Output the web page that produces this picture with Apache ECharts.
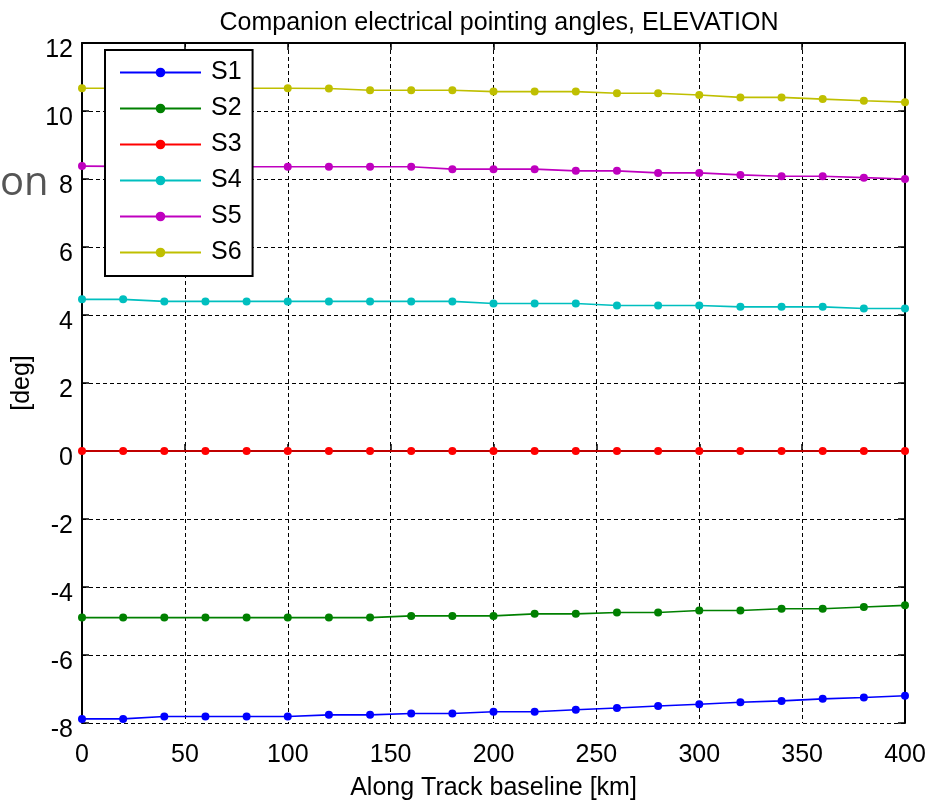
<!DOCTYPE html>
<html>
<head>
<meta charset="utf-8">
<title>Companion electrical pointing angles, ELEVATION</title>
<script src="https://cdn.jsdelivr.net/npm/echarts@6/dist/echarts.min.js"></script>
<style>
  html, body { margin: 0; padding: 0; background: #fff; }
  #chart { width: 927px; height: 802px; }
</style>
</head>
<body>
<div id="chart"></div>
<script>
// Along-track baseline samples [km]
const baseline = [0, 20, 40, 60, 80, 100, 120, 140, 160, 180, 200, 220, 240, 260, 280, 300, 320, 340, 360, 380, 400];

// Elevation pointing angle per satellite [deg]
const s1 = [-7.88, -7.88, -7.81, -7.81, -7.81, -7.81, -7.76, -7.76, -7.72, -7.72, -7.67, -7.67, -7.61, -7.56, -7.50, -7.45, -7.39, -7.35, -7.29, -7.25, -7.20];
const s2 = [-4.90, -4.90, -4.90, -4.90, -4.90, -4.90, -4.90, -4.90, -4.85, -4.85, -4.85, -4.79, -4.79, -4.75, -4.75, -4.69, -4.69, -4.64, -4.64, -4.59, -4.54];
const s3 = [0.00, 0.00, 0.00, 0.00, 0.00, 0.00, 0.00, 0.00, 0.00, 0.00, 0.00, 0.00, 0.00, 0.00, 0.00, 0.00, 0.00, 0.00, 0.00, 0.00, 0.00];
const s4 = [4.46, 4.46, 4.40, 4.40, 4.40, 4.40, 4.40, 4.40, 4.40, 4.40, 4.34, 4.34, 4.34, 4.28, 4.28, 4.28, 4.24, 4.24, 4.24, 4.19, 4.19];
const s5 = [8.38, 8.37, 8.37, 8.36, 8.36, 8.36, 8.36, 8.36, 8.36, 8.29, 8.29, 8.29, 8.24, 8.24, 8.18, 8.18, 8.12, 8.08, 8.08, 8.04, 8.00];
const s6 = [10.67, 10.67, 10.67, 10.67, 10.67, 10.67, 10.66, 10.61, 10.61, 10.61, 10.57, 10.57, 10.57, 10.52, 10.52, 10.47, 10.40, 10.40, 10.35, 10.30, 10.26];

const seriesNames = ['S1', 'S2', 'S3', 'S4', 'S5', 'S6'];
const seriesValues = [s1, s2, s3, s4, s5, s6];
const seriesColors = ['#0000ff', '#008000', '#ff0000', '#00bfbf', '#bf00bf', '#bfbf00'];

const FONT = 'Liberation Sans, Arial, sans-serif';

const chart = echarts.init(document.getElementById('chart'));

const gridBox = { left: 82, right: 22, top: 43, bottom: 79 };

const mainSeries = seriesNames.map((name, i) => ({
  name: name,
  type: 'line',
  data: baseline.map((x, k) => [x, seriesValues[i][k]]),
  symbol: 'circle',
  symbolSize: 8,
  lineStyle: { width: 1.6, color: seriesColors[i] },
  itemStyle: { color: seriesColors[i] },
  emphasis: { disabled: true },
  z: 3
}));

chart.setOption({
  animation: false,
  backgroundColor: '#fff',
  textStyle: { fontFamily: FONT, color: '#000' },
  title: {
    text: 'Companion electrical pointing angles, ELEVATION',
    left: 494,
    textAlign: 'center',
    top: 6,
    textStyle: { fontFamily: FONT, fontSize: 25, fontWeight: 'normal', color: '#000' }
  },
  legend: {
    data: seriesNames,
    orient: 'vertical',
    left: 105,
    top: 50,
    padding: [10, 11, 11, 14],
    itemWidth: 81,
    itemHeight: 12,
    itemGap: 11,
    backgroundColor: '#fff',
    borderColor: '#000',
    borderWidth: 2,
    textStyle: { fontFamily: FONT, fontSize: 25, color: '#000', padding: [0, 0, 0, 5] }
  },
  grid: Object.assign({ show: false, outerBoundsMode: 'none', containLabel: false }, gridBox),
  xAxis: [
    {
      type: 'value',
      min: 0, max: 400, interval: 50,
      name: 'Along Track baseline [km]',
      nameLocation: 'middle',
      nameGap: 53,
      nameTextStyle: { fontFamily: FONT, fontSize: 25, color: '#000' },
      axisLine: { show: true, lineStyle: { color: '#000', width: 2 } },
      axisTick: { show: true, inside: true, length: 7, lineStyle: { color: '#000', width: 1.5 } },
      axisLabel: { fontFamily: FONT, fontSize: 25, color: '#000', margin: 20 },
      splitLine: { show: true, lineStyle: { color: '#000', type: [4, 3], width: 1 } }
    },
    {
      type: 'value', position: 'top',
      min: 0, max: 400, interval: 50,
      axisLine: { show: true, onZero: false, lineStyle: { color: '#000', width: 2 } },
      axisTick: { show: true, inside: true, length: 7, lineStyle: { color: '#000', width: 1.5 } },
      axisLabel: { show: false },
      splitLine: { show: false }
    }
  ],
  yAxis: [
    {
      type: 'value',
      min: -8, max: 12, interval: 2,
      name: '[deg]',
      nameLocation: 'middle',
      nameGap: 39,
      nameRotate: 90,
      nameTextStyle: { fontFamily: FONT, fontSize: 25, color: '#000' },
      axisLine: { show: true, onZero: false, lineStyle: { color: '#000', width: 2 } },
      axisTick: { show: true, inside: true, length: 7, lineStyle: { color: '#000', width: 1.5 } },
      axisLabel: { fontFamily: FONT, fontSize: 25, color: '#000', margin: 9, verticalAlign: 'top', lineHeight: 14 },
      splitLine: { show: true, lineStyle: { color: '#000', type: [4, 3], width: 1 } }
    },
    {
      type: 'value', position: 'right',
      min: -8, max: 12, interval: 2,
      axisLine: { show: true, onZero: false, lineStyle: { color: '#000', width: 2 } },
      axisTick: { show: true, inside: true, length: 7, lineStyle: { color: '#000', width: 1.5 } },
      axisLabel: { show: false },
      splitLine: { show: false }
    }
  ],
  graphic: [
    {
      type: 'text',
      left: 0,
      top: 164,
      style: { text: 'on', fontFamily: 'Open Sans, sans-serif', fontSize: 40, fill: '#555' },
      z: 10
    }
  ],
  series: mainSeries
});
</script>
</body>
</html>
